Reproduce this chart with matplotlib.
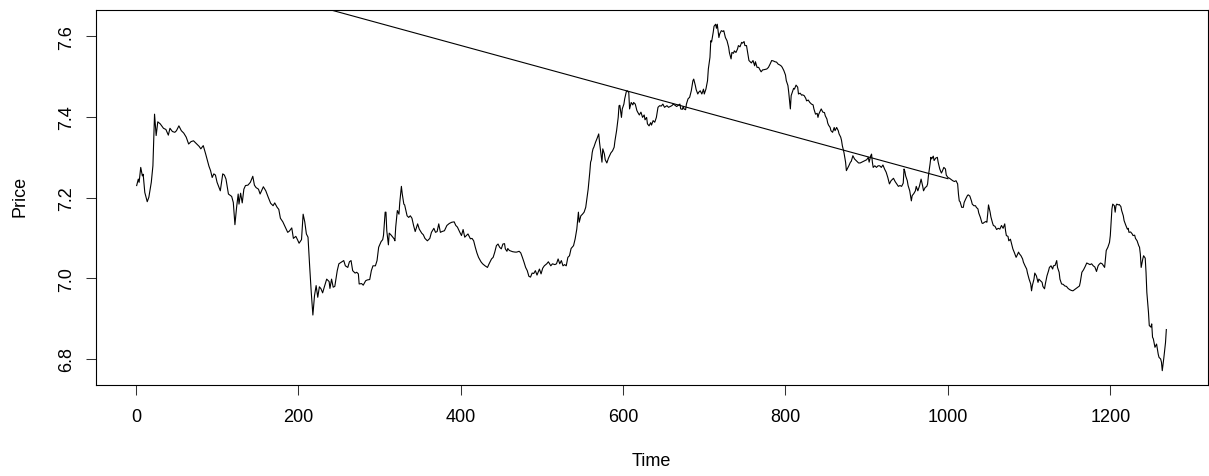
import numpy as np
import matplotlib
matplotlib.use('Agg')
import matplotlib.pyplot as plt

plt.rcParams['font.family'] = ['Liberation Sans', 'DejaVu Sans']

# price series (time index, price)
time = [
    1, 3, 4, 6, 8, 9, 11, 14, 16, 19,
    21, 23, 25, 27, 30, 34, 37, 40, 42, 45,
    48, 50, 53, 56, 59, 62, 65, 68, 71, 75,
    78, 80, 83, 86, 90, 92, 94, 96, 98, 100,
    104, 107, 109, 111, 114, 118, 120, 122, 124, 126,
    127, 129, 131, 133, 135, 138, 141, 144, 146, 148,
    151, 153, 157, 160, 163, 166, 169, 171, 174, 176,
    178, 181, 184, 187, 189, 192, 194, 197, 199, 201,
    204, 206, 208, 210, 212, 214, 216, 218, 220, 222,
    224, 226, 228, 230, 232, 235, 238, 239, 241, 243,
    245, 248, 250, 253, 256, 258, 261, 263, 265, 267,
    270, 272, 274, 275, 278, 280, 283, 285, 288, 290,
    292, 295, 297, 299, 302, 304, 305, 307, 308, 309,
    311, 312, 314, 316, 318, 319, 320, 322, 324, 325,
    327, 328, 330, 331, 334, 336, 338, 340, 342, 344,
    347, 349, 352, 354, 356, 359, 362, 364, 367, 369,
    371, 373, 375, 377, 380, 383, 386, 389, 392, 394,
    396, 399, 401, 403, 405, 407, 409, 412, 414, 416,
    418, 420, 422, 425, 427, 430, 433, 435, 438, 440,
    442, 444, 446, 448, 450, 452, 454, 455, 457, 458,
    460, 464, 467, 469, 472, 474, 476, 478, 480, 482,
    484, 486, 488, 490, 492, 494, 497, 499, 501, 503,
    506, 508, 511, 513, 516, 518, 520, 522, 524, 526,
    528, 530, 532, 534, 536, 539, 541, 543, 544, 545,
    546, 548, 550, 552, 554, 556, 557, 559, 560, 561,
    562, 563, 564, 566, 568, 570, 571, 573, 574, 575,
    577, 578, 580, 582, 585, 587, 589, 590, 592, 594,
    595, 596, 598, 599, 601, 602, 604, 605, 607, 608,
    610, 612, 613, 615, 617, 618, 620, 622, 624, 626,
    627, 629, 630, 632, 634, 635, 637, 639, 641, 643,
    645, 647, 649, 651, 654, 656, 658, 660, 662, 664,
    666, 668, 670, 671, 673, 674, 675, 677, 678, 680,
    682, 684, 686, 687, 689, 690, 692, 693, 695, 697,
    699, 700, 702, 704, 705, 707, 708, 709, 711, 712,
    714, 715, 716, 718, 719, 721, 723, 724, 726, 728,
    730, 731, 733, 734, 736, 737, 739, 741, 742, 744,
    746, 747, 749, 750, 752, 754, 755, 757, 758, 760,
    762, 763, 765, 767, 768, 770, 772, 773, 775, 777,
    779, 781, 783, 785, 787, 789, 791, 793, 795, 796,
    798, 800, 801, 803, 804, 805, 806, 807, 809, 810,
    811, 813, 815, 816, 818, 820, 821, 823, 825, 826,
    828, 830, 832, 834, 835, 837, 839, 840, 841, 843,
    844, 846, 848, 849, 851, 852, 853, 855, 856, 858,
    860, 861, 863, 865, 866, 868, 869, 870, 872, 873,
    874, 875, 876, 878, 880, 881, 883, 885, 888, 890,
    892, 894, 896, 898, 900, 902, 903, 905, 906, 907,
    908, 910, 912, 914, 916, 918, 920, 922, 924, 926,
    928, 930, 933, 935, 937, 939, 941, 943, 945, 946,
    947, 948, 950, 951, 953, 955, 956, 958, 960, 961,
    963, 965, 966, 967, 969, 970, 972, 974, 975, 976,
    978, 979, 980, 982, 983, 985, 987, 988, 990, 992,
    993, 995, 997, 998, 1000, 1002, 1004, 1006, 1008, 1010,
    1012, 1013, 1014, 1015, 1017, 1019, 1020, 1022, 1024, 1025,
    1027, 1029, 1030, 1032, 1034, 1035, 1037, 1038, 1040, 1042,
    1043, 1045, 1047, 1048, 1049, 1050, 1052, 1053, 1055, 1056,
    1058, 1060, 1062, 1064, 1066, 1068, 1070, 1071, 1072, 1074,
    1075, 1077, 1079, 1080, 1082, 1084, 1085, 1087, 1088, 1090,
    1092, 1093, 1095, 1097, 1098, 1100, 1102, 1103, 1104, 1106,
    1107, 1109, 1111, 1112, 1114, 1116, 1117, 1119, 1120, 1122,
    1124, 1125, 1127, 1129, 1130, 1132, 1134, 1135, 1137, 1138,
    1140, 1142, 1144, 1146, 1148, 1150, 1152, 1154, 1156, 1158,
    1160, 1162, 1163, 1165, 1167, 1169, 1171, 1173, 1175, 1177,
    1179, 1181, 1183, 1185, 1186, 1188, 1190, 1191, 1193, 1194,
    1195, 1197, 1199, 1200, 1201, 1202, 1203, 1205, 1206, 1207,
    1208, 1210, 1211, 1213, 1214, 1216, 1217, 1219, 1221, 1222,
    1223, 1225, 1227, 1228, 1230, 1231, 1233, 1235, 1236, 1237,
    1238, 1240, 1241, 1243, 1244, 1245, 1247, 1248, 1250, 1251,
    1252, 1253, 1255, 1256, 1257, 1259, 1260, 1262, 1263, 1264,
    1266, 1268, 1269,
]
price = [
    7.230, 7.246, 7.238, 7.275, 7.254, 7.258, 7.213, 7.190, 7.201, 7.238,
    7.279, 7.407, 7.354, 7.388, 7.383, 7.372, 7.369, 7.355, 7.372, 7.364,
    7.362, 7.366, 7.378, 7.366, 7.360, 7.350, 7.333, 7.339, 7.341, 7.333,
    7.327, 7.321, 7.329, 7.308, 7.278, 7.267, 7.250, 7.259, 7.256, 7.238,
    7.217, 7.259, 7.256, 7.246, 7.209, 7.203, 7.188, 7.133, 7.175, 7.209,
    7.184, 7.211, 7.187, 7.221, 7.230, 7.231, 7.238, 7.253, 7.231, 7.225,
    7.221, 7.209, 7.227, 7.217, 7.201, 7.186, 7.180, 7.187, 7.176, 7.171,
    7.149, 7.140, 7.127, 7.114, 7.117, 7.125, 7.099, 7.104, 7.096, 7.087,
    7.096, 7.159, 7.140, 7.110, 7.102, 7.031, 6.965, 6.909, 6.957, 6.982,
    6.953, 6.979, 6.974, 6.964, 6.978, 6.998, 6.992, 6.975, 6.998, 6.978,
    6.980, 7.019, 7.036, 7.040, 7.044, 7.031, 7.027, 7.041, 7.044, 7.019,
    7.013, 7.015, 7.011, 6.986, 6.987, 6.983, 6.994, 6.996, 6.997, 7.019,
    7.031, 7.031, 7.044, 7.077, 7.091, 7.096, 7.107, 7.164, 7.164, 7.118,
    7.083, 7.112, 7.108, 7.103, 7.098, 7.093, 7.127, 7.168, 7.159, 7.188,
    7.228, 7.210, 7.184, 7.182, 7.155, 7.151, 7.155, 7.149, 7.131, 7.116,
    7.135, 7.122, 7.112, 7.108, 7.099, 7.093, 7.099, 7.114, 7.124, 7.114,
    7.116, 7.135, 7.114, 7.116, 7.118, 7.131, 7.136, 7.139, 7.140, 7.131,
    7.127, 7.114, 7.106, 7.121, 7.102, 7.106, 7.110, 7.098, 7.099, 7.093,
    7.077, 7.063, 7.052, 7.041, 7.036, 7.031, 7.027, 7.036, 7.048, 7.052,
    7.065, 7.081, 7.085, 7.077, 7.073, 7.085, 7.086, 7.073, 7.067, 7.074,
    7.069, 7.066, 7.065, 7.065, 7.067, 7.063, 7.052, 7.040, 7.027, 7.019,
    7.005, 7.003, 7.013, 7.012, 7.019, 7.008, 7.023, 7.011, 7.025, 7.031,
    7.036, 7.041, 7.031, 7.036, 7.034, 7.036, 7.048, 7.036, 7.044, 7.031,
    7.034, 7.031, 7.052, 7.056, 7.074, 7.081, 7.098, 7.122, 7.143, 7.164,
    7.139, 7.155, 7.159, 7.164, 7.176, 7.205, 7.221, 7.263, 7.288, 7.294,
    7.312, 7.321, 7.325, 7.337, 7.347, 7.358, 7.337, 7.304, 7.288, 7.321,
    7.308, 7.294, 7.286, 7.298, 7.311, 7.316, 7.325, 7.341, 7.366, 7.399,
    7.428, 7.429, 7.399, 7.420, 7.432, 7.445, 7.463, 7.465, 7.461, 7.420,
    7.436, 7.430, 7.436, 7.432, 7.416, 7.412, 7.405, 7.412, 7.399, 7.405,
    7.393, 7.399, 7.383, 7.378, 7.386, 7.380, 7.391, 7.387, 7.399, 7.424,
    7.428, 7.427, 7.432, 7.424, 7.428, 7.424, 7.426, 7.428, 7.432, 7.429,
    7.426, 7.429, 7.432, 7.420, 7.419, 7.426, 7.420, 7.418, 7.432, 7.445,
    7.449, 7.465, 7.490, 7.494, 7.478, 7.468, 7.457, 7.461, 7.465, 7.457,
    7.469, 7.457, 7.469, 7.490, 7.519, 7.548, 7.589, 7.586, 7.610, 7.625,
    7.630, 7.620, 7.630, 7.597, 7.606, 7.614, 7.612, 7.614, 7.597, 7.589,
    7.573, 7.559, 7.544, 7.560, 7.558, 7.564, 7.560, 7.569, 7.577, 7.574,
    7.585, 7.583, 7.587, 7.577, 7.577, 7.552, 7.540, 7.536, 7.534, 7.540,
    7.527, 7.537, 7.523, 7.523, 7.519, 7.512, 7.517, 7.517, 7.518, 7.519,
    7.523, 7.531, 7.540, 7.539, 7.537, 7.536, 7.531, 7.529, 7.526, 7.523,
    7.515, 7.504, 7.490, 7.478, 7.461, 7.440, 7.420, 7.453, 7.465, 7.471,
    7.469, 7.479, 7.474, 7.457, 7.459, 7.454, 7.455, 7.453, 7.446, 7.440,
    7.442, 7.436, 7.432, 7.430, 7.420, 7.407, 7.409, 7.399, 7.407, 7.416,
    7.420, 7.412, 7.411, 7.403, 7.395, 7.385, 7.380, 7.374, 7.366, 7.362,
    7.374, 7.366, 7.374, 7.366, 7.358, 7.350, 7.342, 7.329, 7.312, 7.300,
    7.288, 7.267, 7.271, 7.279, 7.288, 7.290, 7.304, 7.296, 7.290, 7.286,
    7.286, 7.288, 7.290, 7.292, 7.294, 7.300, 7.288, 7.304, 7.308, 7.288,
    7.275, 7.279, 7.275, 7.279, 7.279, 7.275, 7.281, 7.271, 7.263, 7.250,
    7.234, 7.242, 7.248, 7.240, 7.234, 7.228, 7.230, 7.228, 7.236, 7.271,
    7.265, 7.254, 7.242, 7.230, 7.217, 7.192, 7.205, 7.210, 7.217, 7.228,
    7.217, 7.229, 7.238, 7.246, 7.228, 7.217, 7.225, 7.228, 7.234, 7.254,
    7.283, 7.300, 7.296, 7.303, 7.292, 7.298, 7.300, 7.288, 7.271, 7.261,
    7.265, 7.275, 7.271, 7.256, 7.250, 7.248, 7.245, 7.242, 7.240, 7.242,
    7.234, 7.209, 7.192, 7.190, 7.176, 7.176, 7.188, 7.197, 7.205, 7.207,
    7.204, 7.192, 7.184, 7.180, 7.180, 7.176, 7.172, 7.162, 7.151, 7.137,
    7.136, 7.139, 7.141, 7.139, 7.159, 7.182, 7.164, 7.152, 7.137, 7.131,
    7.129, 7.121, 7.124, 7.122, 7.131, 7.124, 7.135, 7.118, 7.106, 7.104,
    7.093, 7.097, 7.081, 7.073, 7.063, 7.052, 7.056, 7.065, 7.061, 7.056,
    7.048, 7.040, 7.031, 7.023, 7.013, 6.998, 6.986, 6.969, 6.982, 6.998,
    7.013, 7.006, 6.990, 6.998, 6.994, 6.990, 6.980, 6.974, 6.986, 7.006,
    7.019, 7.027, 7.031, 7.023, 7.031, 7.032, 7.044, 7.027, 7.015, 6.998,
    6.986, 6.985, 6.981, 6.980, 6.975, 6.972, 6.970, 6.969, 6.972, 6.975,
    6.978, 6.981, 6.990, 7.015, 7.021, 7.029, 7.038, 7.036, 7.034, 7.036,
    7.031, 7.028, 7.017, 7.031, 7.034, 7.038, 7.036, 7.033, 7.027, 7.048,
    7.069, 7.077, 7.089, 7.106, 7.139, 7.172, 7.184, 7.180, 7.164, 7.180,
    7.184, 7.182, 7.183, 7.178, 7.168, 7.155, 7.143, 7.132, 7.122, 7.124,
    7.114, 7.115, 7.110, 7.106, 7.107, 7.099, 7.093, 7.081, 7.077, 7.060,
    7.027, 7.048, 7.056, 7.050, 7.015, 6.965, 6.916, 6.883, 6.879, 6.887,
    6.854, 6.850, 6.829, 6.833, 6.837, 6.812, 6.804, 6.800, 6.792, 6.771,
    6.804, 6.841, 6.873,
]

# straight line drawn over the series (runs off the top of the panel)
trend_time = [1, 1000]
trend_price = [7.797, 7.247]

x_ticks = [0, 200, 400, 600, 800, 1000, 1200]
y_ticks = [6.8, 7.0, 7.2, 7.4, 7.6]

fig = plt.figure(figsize=(12.09, 4.77), dpi=100)
ax = fig.add_axes([95.5 / 1209, 91 / 477, 1112 / 1209, 375.5 / 477])

ax.plot(time, price, color='black', lw=0.8)
ax.plot(trend_time, trend_price, color='black', lw=0.8)

# R style 4% padding around the data range
ax.set_xlim(-49.7, 1319.7)
ax.set_ylim(6.7355, 7.6665)

ax.set_xticks(x_ticks)
ax.set_xticklabels([str(v) for v in x_ticks])
ax.set_yticks(y_ticks)
ax.set_yticklabels(['%.1f' % v for v in y_ticks])
ax.tick_params(axis='both', direction='out', length=7.5, width=0.75,
               labelsize=13, color='#333333')
ax.tick_params(axis='x', pad=9)
ax.tick_params(axis='y', pad=7, labelrotation=90)
for lbl in ax.get_yticklabels():
    lbl.set_va('center')

for sp in ax.spines.values():
    sp.set_linewidth(0.8)
    sp.set_color('black')

fig.text(651.5 / 1209, 1 - 462 / 477, 'Time', ha='center', va='center', fontsize=13)
fig.text(20 / 1209, 1 - 196 / 477, 'Price', ha='center', va='center',
         rotation=90, fontsize=13)

fig.savefig('out.png', dpi=100)
